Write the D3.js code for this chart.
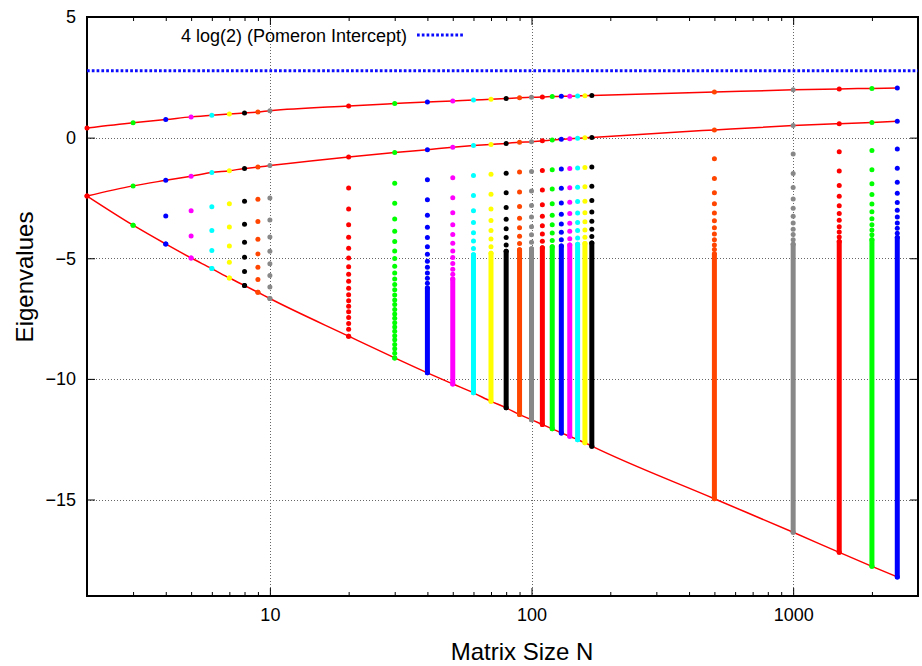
<!DOCTYPE html>
<html>
<head>
<meta charset="utf-8">
<script src="https://cdn.jsdelivr.net/npm/d3@7"></script>
<style>
  body { margin: 0; background: #fff; }
  svg { display: block; }
  text { font-family: "Liberation Sans", Arial, Helvetica, sans-serif; fill: #000; }
</style>
</head>
<body>
<svg id="chart" width="922" height="666"></svg>
<script>
// Matrix sizes N at which the spectrum was computed
const sizes = [2, 3, 4, 5, 6, 7, 8, 9, 10, 20, 30, 40, 50, 60, 70, 80, 90, 100,
               110, 120, 130, 140, 150, 160, 170, 500, 1000, 1500, 2000, 2500];

// Individually resolved eigenvalues for each N (largest first)
const resolved = [
  [0.40, -2.42],
  [0.62, -2.00, -3.63],
  [0.75, -1.77, -3.25, -4.41],
  [0.86, -1.60, -3.03, -4.08, -4.99],
  [0.93, -1.45, -2.87, -3.85, -4.68, -5.43],
  [0.98, -1.37, -2.74, -3.70, -4.49, -5.17, -5.82],
  [1.02, -1.28, -2.64, -3.59, -4.34, -4.96, -5.55, -6.13],
  [1.06, -1.22, -2.55, -3.48, -4.21, -4.82, -5.37, -5.88, -6.41],
  [1.11, -1.16, -2.50, -3.41, -4.12, -4.71, -5.23, -5.72, -6.19, -6.67],
  [1.31, -0.80, -2.09, -2.96, -3.61, -4.13, -4.59, -4.99, -5.35, -5.66, -5.95,
   -6.24, -6.51, -6.76, -6.99, -7.22, -7.46, -7.70, -7.94, -8.23],
  [1.41, -0.62, -1.89, -2.72, -3.37, -3.88, -4.31, -4.70, -5.01, -5.33, -5.61,
   -5.86, -6.09, -6.31, -6.52, -6.73, -6.92, -7.12, -7.31, -7.49, -7.67, -7.85,
   -8.03, -8.21, -8.38, -8.57, -8.75, -8.94, -9.13],
  [1.48, -0.50, -1.75, -2.58, -3.22, -3.72, -4.14, -4.52, -4.83, -5.12, -5.37, -5.61, -5.83, -6.04, -6.23],
  [1.52, -0.40, -1.66, -2.49, -3.11, -3.61, -4.02, -4.38, -4.70, -4.97, -5.22, -5.46, -5.66, -5.86],
  [1.56, -0.33, -1.57, -2.40, -3.03, -3.52, -3.94, -4.28, -4.60, -4.86],
  [1.59, -0.28, -1.52, -2.35, -2.96, -3.44, -3.85, -4.20, -4.52, -4.79],
  [1.62, -0.24, -1.48, -2.29, -2.90, -3.38, -3.78, -4.14, -4.45, -4.71],
  [1.65, -0.19, -1.42, -2.25, -2.86, -3.34, -3.74, -4.09, -4.39, -4.65],
  [1.67, -0.17, -1.40, -2.21, -2.81, -3.29, -3.69, -4.03, -4.34, -4.61],
  [1.68, -0.13, -1.36, -2.17, -2.78, -3.26, -3.65, -3.99, -4.30, -4.56],
  [1.70, -0.10, -1.33, -2.13, -2.74, -3.22, -3.61, -3.95, -4.26, -4.52],
  [1.71, -0.07, -1.30, -2.10, -2.71, -3.18, -3.58, -3.92, -4.23, -4.49],
  [1.72, -0.05, -1.28, -2.08, -2.68, -3.15, -3.55, -3.88, -4.19, -4.45],
  [1.73, -0.03, -1.26, -2.06, -2.65, -3.12, -3.52, -3.85, -4.16, -4.42],
  [1.74, -0.01, -1.24, -2.04, -2.64, -3.11, -3.49, -3.83, -4.13, -4.39],
  [1.75,  0.01, -1.22, -2.02, -2.61, -3.08, -3.47, -3.80, -4.10, -4.37],
  [1.89,  0.32, -0.88, -1.69, -2.28, -2.74, -3.12, -3.45, -3.74, -3.99, -4.23, -4.45, -4.64, -4.82],
  [1.98,  0.50, -0.68, -1.49, -2.07, -2.54, -2.93, -3.26, -3.54, -3.80, -4.02, -4.23, -4.42],
  [2.02,  0.58, -0.59, -1.38, -1.98, -2.43, -2.82, -3.14, -3.43, -3.69, -3.91, -4.12, -4.31],
  [2.04,  0.63, -0.53, -1.33, -1.91, -2.36, -2.75, -3.07, -3.36, -3.61, -3.83, -4.03, -4.23],
  [2.06,  0.68, -0.47, -1.27, -1.85, -2.31, -2.69, -3.01, -3.29, -3.54, -3.76, -3.96, -4.14]
];

// Top of the densely packed part of each spectrum (null where every level is resolved)
const denseTop = [null, null, null, null, null, null, null, null, null, null, null,
  -6.23, -5.86, -4.86, -4.79, -4.71, -4.65, -4.61, -4.56, -4.52, -4.49, -4.45, -4.42,
  -4.39, -4.37, -4.82, -4.42, -4.31, -4.23, -4.14];

// Lowest eigenvalue for each N
const lowest = [-2.42, -3.63, -4.41, -4.99, -5.43, -5.82, -6.13, -6.41, -6.67, -8.23,
  -9.13, -9.75, -10.21, -10.58, -10.93, -11.20, -11.48, -11.69, -11.89, -12.07,
  -12.24, -12.38, -12.52, -12.65, -12.79, -14.97, -16.36, -17.19, -17.77, -18.21];

// Pomeron intercept 4 log(2)
const pomeron = 2.7726;
const pomeronLabel = "4 log(2) (Pomeron Intercept)";

const xMajorTicks = [10, 100, 1000];
const xMinorTicks = [3, 4, 5, 6, 7, 8, 9, 20, 30, 40, 50, 60, 70, 80, 90,
                     200, 300, 400, 500, 600, 700, 800, 900, 2000];
const yTicks = [-15, -10, -5, 0, 5];
const xTitle = "Matrix Size N";
const yTitle = "Eigenvalues";

// Colour cycle, one colour per matrix size
const palette = ["#ff0000", "#00ff00", "#0000ff", "#ff00ff", "#00ffff",
                 "#ffff00", "#000000", "#ff4500", "#888888"];

const svg = d3.select("#chart");
const plotL = 87, plotR = 918, plotT = 17, plotB = 596;

const x = d3.scaleLog().domain([2, 3000]).range([plotL, plotR]);
const y = d3.scaleLinear().domain([-19, 5]).range([plotB, plotT]);

// Grid at major tics
const grid = svg.append("g")
  .attr("stroke", "#666").attr("stroke-width", 1).attr("stroke-dasharray", "1,2");
grid.selectAll("line.gx").data(xMajorTicks).join("line")
  .attr("x1", d => Math.round(x(d)) + 0.5).attr("x2", d => Math.round(x(d)) + 0.5)
  .attr("y1", plotT).attr("y2", plotB);
grid.selectAll("line.gy").data(yTicks.filter(v => v > -19 && v < 5)).join("line")
  .attr("y1", d => Math.round(y(d)) + 0.5).attr("y2", d => Math.round(y(d)) + 0.5)
  .attr("x1", plotL).attr("x2", plotR);

// Axes: inward ticks, mirrored on top and right
function styleAxis(g) {
  g.select(".domain").remove();
  g.selectAll(".tick line").attr("stroke", "#000").attr("stroke-width", 1);
  g.selectAll(".tick text").attr("font-size", 18);
}
svg.append("g").attr("transform", `translate(0,${plotB})`)
  .call(d3.axisBottom(x).tickValues(xMajorTicks).tickFormat(d3.format("d"))
        .tickSize(-8).tickPadding(12))
  .call(styleAxis);
svg.append("g").attr("transform", `translate(0,${plotB})`)
  .call(d3.axisBottom(x).tickValues(xMinorTicks).tickFormat("").tickSize(-4))
  .call(styleAxis);
svg.append("g").attr("transform", `translate(0,${plotT})`)
  .call(d3.axisTop(x).tickValues(xMajorTicks).tickFormat("").tickSize(-8))
  .call(styleAxis);
svg.append("g").attr("transform", `translate(0,${plotT})`)
  .call(d3.axisTop(x).tickValues(xMinorTicks).tickFormat("").tickSize(-4))
  .call(styleAxis);
svg.append("g").attr("transform", `translate(${plotL},0)`)
  .call(d3.axisLeft(y).tickValues(yTicks).tickFormat(d3.format("d"))
        .tickSize(-8).tickPadding(11))
  .call(styleAxis);
svg.append("g").attr("transform", `translate(${plotR},0)`)
  .call(d3.axisRight(y).tickValues(yTicks).tickFormat("").tickSize(-8))
  .call(styleAxis);

// Frame
svg.append("rect")
  .attr("x", plotL).attr("y", plotT).attr("width", plotR - plotL).attr("height", plotB - plotT)
  .attr("fill", "none").attr("stroke", "#000").attr("stroke-width", 2);

// Axis titles
svg.append("text").attr("x", 522).attr("y", 660).attr("text-anchor", "middle")
  .attr("font-size", 24).text(xTitle);
svg.append("text").attr("transform", "translate(33,277) rotate(-90)")
  .attr("text-anchor", "middle").attr("font-size", 24).text(yTitle);

// Pomeron intercept line and its key
svg.append("line")
  .attr("x1", plotL).attr("x2", plotR).attr("y1", y(pomeron)).attr("y2", y(pomeron))
  .attr("stroke", "#0a0aff").attr("stroke-width", 3).attr("stroke-dasharray", "2.7,2.1");
svg.append("text").attr("x", 407).attr("y", 41.5).attr("text-anchor", "end")
  .attr("font-size", 18).text(pomeronLabel);
svg.append("line")
  .attr("x1", 417).attr("x2", 465).attr("y1", 35).attr("y2", 35)
  .attr("stroke", "#0a0aff").attr("stroke-width", 3).attr("stroke-dasharray", "2.7,2.1");

// Red curves through the two largest and the smallest eigenvalue
const curve = d3.line().x(d => x(d[0])).y(d => y(d[1])).curve(d3.curveMonotoneX);
const tracks = [
  sizes.map((n, i) => [n, resolved[i][0]]),
  sizes.map((n, i) => [n, resolved[i][1]]),
  sizes.map((n, i) => [n, lowest[i]])
];
svg.append("g").selectAll("path").data(tracks).join("path")
  .attr("d", curve).attr("fill", "none").attr("stroke", "#ff0000").attr("stroke-width", 1.5);

// Spectra
const dotR = 2.5;
const cols = svg.append("g");
sizes.forEach((n, i) => {
  const col = palette[i % palette.length];
  const g = cols.append("g");
  if (denseTop[i] !== null) {
    g.append("line")
      .attr("x1", x(n)).attr("x2", x(n))
      .attr("y1", y(denseTop[i])).attr("y2", y(lowest[i]))
      .attr("stroke", col).attr("stroke-width", dotR * 2).attr("stroke-linecap", "round");
  }
  const vals = resolved[i].concat([lowest[i]]);
  g.selectAll("circle").data(vals).join("circle")
    .attr("cx", x(n)).attr("cy", d => y(d)).attr("r", dotR).attr("fill", col);
});
</script>
</body>
</html>
